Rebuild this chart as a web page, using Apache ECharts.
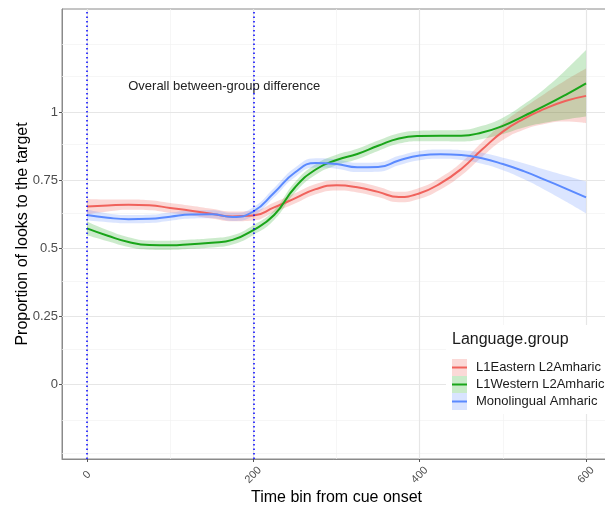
<!DOCTYPE html>
<html><head><meta charset="utf-8">
<script src="https://cdn.jsdelivr.net/npm/echarts@6/dist/echarts.min.js"></script>
<style>html,body{margin:0;padding:0;background:#fff}#c{width:605px;height:507px}</style>
</head><body><div id="c"></div>
<script>
const groups = ['L1Eastern L2Amharic', 'L1Western L2Amharic', 'Monolingual Amharic'];
const lineColors = ['#F0625C', '#19A519', '#5B8AFF'];
const bandFills = ['rgba(240,98,92,0.25)', 'rgba(25,165,25,0.22)', 'rgba(91,138,255,0.22)'];
const keyFills = ['#fbd9d7', '#c9ebc9', '#d9e4ff'];

const tBins = [0,25,50,75,100,125,150,175,200,225,250,275,300,325,350,375,400,425,450,475,500,525,550,575,600];
const eastFit = [0.653,0.657,0.660,0.658,0.648,0.638,0.627,0.617,0.620,0.650,0.683,0.717,0.731,0.724,0.707,0.688,0.702,0.738,0.791,0.862,0.928,0.975,1.011,1.040,1.059];
const eastSE  = [0.028,0.022,0.019,0.018,0.018,0.018,0.018,0.018,0.018,0.018,0.019,0.019,0.019,0.019,0.019,0.019,0.020,0.022,0.024,0.027,0.031,0.040,0.055,0.075,0.100];
const westFit = [0.573,0.546,0.523,0.512,0.511,0.515,0.520,0.531,0.567,0.622,0.723,0.789,0.824,0.846,0.876,0.903,0.912,0.913,0.913,0.925,0.949,0.985,1.022,1.062,1.105];
const westSE  = [0.025,0.020,0.018,0.017,0.017,0.017,0.017,0.017,0.018,0.018,0.019,0.019,0.019,0.019,0.019,0.019,0.019,0.020,0.021,0.024,0.030,0.042,0.062,0.090,0.122];
const monoFit = [0.622,0.612,0.607,0.608,0.616,0.624,0.625,0.615,0.635,0.704,0.778,0.813,0.809,0.797,0.798,0.822,0.840,0.845,0.842,0.830,0.809,0.783,0.752,0.720,0.687];
const monoSE  = [0.020,0.016,0.015,0.015,0.015,0.015,0.015,0.015,0.016,0.017,0.017,0.017,0.017,0.017,0.017,0.017,0.017,0.017,0.018,0.020,0.023,0.029,0.037,0.047,0.058];

const xMajorTicks = [0,200,400,600];
const xMinorLines = [100,300,500];
const yMajorTicks = [0,0.25,0.5,0.75,1];
const yMinorLines = [-0.25,-0.125,0.125,0.375,0.625,0.875,1.125,1.25];
const cueLines = [0,200];
const annotationText = 'Overall between-group difference';
const annotationPos = [165, 1.093];

const fits = [eastFit, westFit, monoFit];
const ses = [eastSE, westSE, monoSE];

// value first, time second: stacking then happens on the value (y) dimension
function pairsYX(vals){ return tBins.map((t,i)=>[vals[i], t]); }
const SMOOTH = 0.5;

const series = [];
series.push({
  type:'line', data:[], silent:true, z:1,
  markLine:{
    silent:true, symbol:['none','none'], z:1, animation:false, label:{show:false},
    emphasis:{disabled:true},
    data:[].concat(
      yMinorLines.map(v=>({yAxis:v, lineStyle:{color:'#f2f2f2', width:0.7, type:'solid'}})),
      xMinorLines.map(v=>({xAxis:v, lineStyle:{color:'#f2f2f2', width:0.7, type:'solid'}})),
      yMajorTicks.map(v=>({yAxis:v, lineStyle:{color:'#e6e6e6', width:1.2, type:'solid'}})),
      xMajorTicks.map(v=>({xAxis:v, lineStyle:{color:'#e6e6e6', width:1.2, type:'solid'}}))
    )
  }
});
groups.forEach((g, k) => {
  const lower = fits[k].map((v,i)=>v-ses[k][i]);
  const width = ses[k].map(s=>2*s);
  series.push({name:g+' lo', type:'line', stack:'s'+k, data:pairsYX(lower), encode:{x:1, y:0},
    smooth:SMOOTH, symbol:'none', lineStyle:{opacity:0}, silent:true, z:2});
  series.push({name:g+' CI', type:'line', stack:'s'+k, data:pairsYX(width), encode:{x:1, y:0},
    smooth:SMOOTH, symbol:'none', lineStyle:{opacity:0}, areaStyle:{color:bandFills[k], opacity:1},
    itemStyle:{color:keyFills[k]}, silent:true, z:2});
  series.push({name:g, type:'line', data:pairsYX(fits[k]), encode:{x:1, y:0}, smooth:SMOOTH, symbol:'none',
    lineStyle:{width:2, color:lineColors[k]}, itemStyle:{color:lineColors[k]}, z:2});
});
series.push({
  type:'line', data:[], silent:true, z:3,
  markLine:{
    silent:true, symbol:['none','none'], z:4, animation:false, label:{show:false},
    lineStyle:{color:'#0000ff', width:1.5, type:[1.5,3]},
    data: cueLines.map(v=>({xAxis:v}))
  },
  markPoint:{
    silent:true, symbol:'circle', symbolSize:0, animation:false,
    data:[{coord:annotationPos, value:0}],
    label:{show:true, position:'inside', formatter:annotationText, fontSize:13, color:'#222'}
  }
});

const chart = echarts.init(document.getElementById('c'));
chart.setOption({
  animation:false,
  backgroundColor:'#fff',
  textStyle:{fontFamily:'Liberation Sans, Arial, sans-serif'},
  grid:{left:62, top:9, width:549, height:450, outerBoundsMode:'none', containLabel:false,
    show:true, borderColor:'#8a8a8a', borderWidth:1, backgroundColor:'#fff'},
  title:{text:'Language.group', left:446, top:325, padding:[7,60,66,6], backgroundColor:'#fff',
    textStyle:{fontSize:16, fontWeight:'normal', color:'#1a1a1a'}, z:3},
  legend:[
    {id:'keys', orient:'vertical', left:452, top:359, padding:0, itemWidth:15, itemHeight:17, itemGap:0,
      icon:'rect', data:groups.map(g=>g+' CI'), formatter:()=>'', selectedMode:false, z:5,
      textStyle:{fontSize:13, lineHeight:17}},
    {id:'lines', orient:'vertical', left:452, top:359, padding:0, itemWidth:15, itemHeight:17, itemGap:0,
      icon:'path://M0,0 H15 V2 H0 Z', symbolKeepAspect:true, data:groups, selectedMode:false, z:6,
      textStyle:{fontSize:13, lineHeight:17, color:'#1a1a1a', padding:[0,0,0,4]}}
  ],
  xAxis:{type:'value', min:-30, max:630, splitLine:{show:false},
    axisLine:{show:true, onZero:false, lineStyle:{color:'#8a8a8a'}},
    axisTick:{show:true, customValues:xMajorTicks, length:3, lineStyle:{color:'#555'}},
    axisLabel:{customValues:xMajorTicks, rotate:45, align:'center', verticalAlign:'middle', margin:16, fontSize:11, color:'#4d4d4d'},
    name:'Time bin from cue onset', nameLocation:'middle', nameGap:31, nameMoveOverlap:false,
    nameTextStyle:{fontSize:16, color:'#000'}},
  yAxis:{type:'value', min:-0.2725, max:1.3775, splitLine:{show:false},
    axisLine:{show:true, onZero:false, lineStyle:{color:'#8a8a8a'}},
    axisTick:{show:true, customValues:yMajorTicks, length:3, lineStyle:{color:'#555'}},
    axisLabel:{customValues:yMajorTicks, margin:4, fontSize:13, color:'#4d4d4d'},
    name:'Proportion of looks to the target', nameLocation:'middle', nameGap:31, nameMoveOverlap:false,
    nameTextStyle:{fontSize:16, color:'#000'}},
  series: series
});
</script></body></html>
